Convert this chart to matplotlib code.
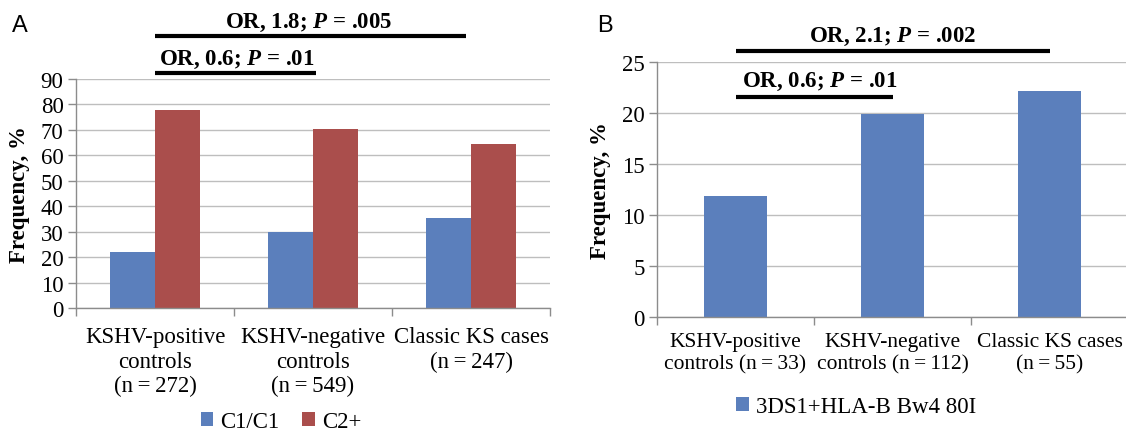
import matplotlib
matplotlib.use("Agg")
import matplotlib.pyplot as plt
import numpy as np

# ---------------- data ----------------
T = "\u2009"  # thin space
cats_a = [f"KSHV-positive\ncontrols\n(n{T}={T}272)", f"KSHV-negative\ncontrols\n(n{T}={T}549)",
          f"Classic KS cases\n(n{T}={T}247)"]
c1c1 = [22.2, 29.8, 35.6]
c2plus = [77.8, 70.2, 64.4]
series_a = ["C1/C1", "C2+"]

cats_b = [f"KSHV-positive\ncontrols (n{T}={T}33)", f"KSHV-negative\ncontrols (n{T}={T}112)",
          f"Classic KS cases\n(n{T}={T}55)"]
kir = [11.9, 19.9, 22.2]
series_b = "3DS1+HLA-B Bw4 80I"

# comparison brackets: (from category, to category, text)
brackets_a = [(0, 1, "OR, 0.6; $P$ = .01"), (0, 2, "OR, 1.8; $P$ = .005")]
brackets_b = [(0, 1, "OR, 0.6; $P$ = .01"), (0, 2, "OR, 2.1; $P$ = .002")]

# ---------------- style ----------------
plt.rcParams["font.family"] = ["Liberation Serif", "DejaVu Serif"]
plt.rcParams["mathtext.fontset"] = "custom"
plt.rcParams["mathtext.it"] = "Liberation Serif:italic:bold"
plt.rcParams["mathtext.rm"] = "Liberation Serif:bold"

BLUE = "#5B7FBC"
RED = "#AA4E4C"
GRID = "#BEBEBE"
SPINE = "#8C8C8C"
FS = 16.5

fig = plt.figure(figsize=(11.26, 4.35), dpi=100)
W, H = 1126, 435

def px_axes(l, r, t, b):
    return fig.add_axes([l / W, 1 - b / H, (r - l) / W, (b - t) / H])

axA = px_axes(76, 550, 80, 309.3)
axB = px_axes(657, 1128, 63.3, 317.7)


def style(ax, ncat, ymax, ystep, cats, labx, xfs):
    ax.set_xlim(-0.5, ncat - 0.5)
    ax.set_ylim(0, ymax)
    ax.set_yticks(np.arange(0, ymax + 0.1, ystep))
    ax.yaxis.grid(True, color=GRID, lw=1.0)
    ax.set_axisbelow(True)
    for s in ["top", "right"]:
        ax.spines[s].set_visible(False)
    for s in ["left", "bottom"]:
        ax.spines[s].set_color(SPINE)
        ax.spines[s].set_linewidth(1.0)
    ax.tick_params(axis="y", length=6, color=SPINE, width=1, pad=3, labelsize=FS)
    ax.set_xticks(range(ncat))
    ax.set_xticklabels(cats, fontsize=xfs, linespacing=1.2)
    ax.tick_params(axis="x", which="major", length=0, pad=13)
    ax.set_xticks(np.arange(-0.5, ncat, 1.0), minor=True)
    ax.tick_params(axis="x", which="minor", length=6, color=SPINE, width=1)
    ax.set_ylabel("Frequency, %", fontsize=FS, fontweight="bold")
    ax.yaxis.set_label_coords(labx, 0.5)


# ---------------- panel A ----------------
x = np.arange(len(cats_a))
w = 1 / 3.5
axA.bar(x - w / 2, c1c1, width=w, color=BLUE, label=series_a[0])
axA.bar(x + w / 2, c2plus, width=w, color=RED, label=series_a[1])
style(axA, len(cats_a), 90, 10, cats_a, -0.098, FS)

for (x0, x1, txt), ly, ty in zip(brackets_a, [92.3, 106.8], [95.9, 110.4]):
    axA.plot([x0, x1 - (0.03 if x1 == 2 else -0.02)], [ly, ly], color="black", lw=3,
             clip_on=False, solid_capstyle="butt")
    axA.text((x0 + x1) / 2 + (0.02 if x1 == 1 else -0.03), ty, txt, ha="center", va="baseline",
             fontsize=FS, fontweight="bold", clip_on=False)

fig.legend(*axA.get_legend_handles_labels(), loc="center", ncol=2,
           bbox_to_anchor=(281 / W, 1 - 423 / H), frameon=False, fontsize=FS,
           handlelength=0.55, handleheight=0.55, handletextpad=0.3, columnspacing=1.0)

# ---------------- panel B ----------------
xb = np.arange(len(cats_b))
axB.bar(xb, kir, width=0.4, color=BLUE, label=series_b)
style(axB, len(cats_b), 25, 5, cats_b, -0.098, 15.5)
axB.tick_params(axis="x", which="major", pad=11)

for (x0, x1, txt), ly, ty in zip(brackets_b, [21.55, 26.07], [22.66, 27.1]):
    axB.plot([x0, x1], [ly, ly], color="black", lw=3, clip_on=False, solid_capstyle="butt")
    axB.text((x0 + x1) / 2 + (0.035 if x1 == 1 else 0.0), ty, txt, ha="center", va="baseline",
             fontsize=FS, fontweight="bold", clip_on=False)

fig.legend(*axB.get_legend_handles_labels(), loc="center",
           bbox_to_anchor=(856 / W, 1 - 408 / H), frameon=False, fontsize=FS,
           handlelength=0.55, handleheight=0.55, handletextpad=0.3)

# panel letters
fig.text(12 / W, 1 - 32 / H, "A", fontsize=17, family="Liberation Sans", va="baseline")
fig.text(597 / W, 1 - 32 / H, "B", fontsize=17, family="Liberation Sans", va="baseline")

fig.savefig("out.png", dpi=100)
